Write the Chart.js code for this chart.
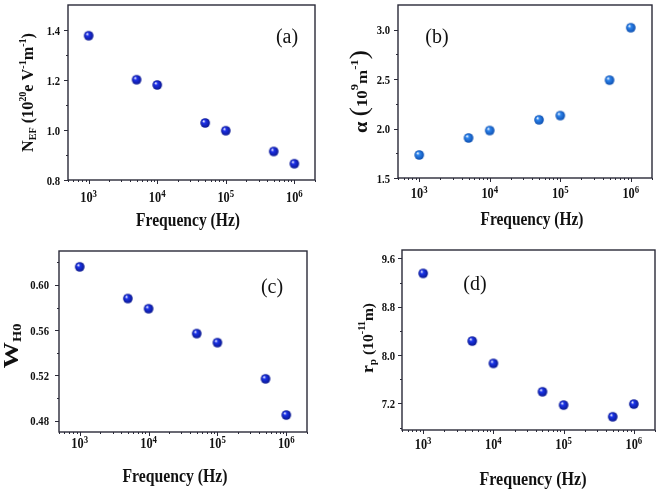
<!DOCTYPE html>
<html><head><meta charset="utf-8">
<script src="https://cdn.jsdelivr.net/npm/chart.js@4.4.1/dist/chart.umd.min.js"></script>
<style>
html,body{margin:0;padding:0;background:#fff;width:661px;height:492px;overflow:hidden}
.p{position:absolute}
</style></head><body>
<div class="p" style="left:0;top:0;width:330px;height:246px"><canvas id="ca"></canvas></div>
<div class="p" style="left:330px;top:0;width:331px;height:246px"><canvas id="cb"></canvas></div>
<div class="p" style="left:0;top:246px;width:330px;height:246px"><canvas id="cc"></canvas></div>
<div class="p" style="left:330px;top:246px;width:331px;height:246px"><canvas id="cd"></canvas></div>
<script>
// ---- data ----
const freq = [1e3, 5e3, 1e4, 5e4, 1e5, 5e5, 1e6];
const nEF = [1.377, 1.201, 1.180, 1.028, 0.997, 0.914, 0.865];
const alpha = [1.733, 1.905, 1.980, 2.088, 2.131, 2.490, 3.020];
const wH0 = [0.616, 0.588, 0.579, 0.557, 0.549, 0.517, 0.485];
const rp = [9.352, 8.232, 7.862, 7.393, 7.172, 6.979, 7.189];
const xTickExp = [3, 4, 5, 6];
const yTicksA = ['0.8', '1.0', '1.2', '1.4'];
const yTicksB = ['1.5', '2.0', '2.5', '3.0'];
const yTicksC = ['0.48', '0.52', '0.56', '0.60'];
const yTicksD = ['7.2', '8.0', '8.8', '9.6'];
const xLabel = 'Frequency (Hz)';

const FAM = "'Liberation Serif','Times New Roman',serif";
function fnt(size, bold) { return (bold ? 'bold ' : '') + size + 'px ' + FAM; }

function ball(color, dark, r) {
  const c = document.createElement('canvas');
  const s = Math.ceil(2 * r) + 2;
  c.width = c.height = s;
  const g = c.getContext('2d');
  const m = s / 2;
  const grd = g.createRadialGradient(m - r * 0.35, m - r * 0.4, 0.3, m, m, r);
  grd.addColorStop(0, '#ffffff');
  grd.addColorStop(0.3, color);
  grd.addColorStop(1, dark);
  g.fillStyle = grd;
  g.beginPath(); g.arc(m, m, r, 0, Math.PI * 2); g.fill();
  return c;
}

function txt(ctx, s, x, y, font, align, sx) {
  ctx.save();
  ctx.translate(x, y); ctx.scale(sx || 1, 1);
  ctx.font = font; ctx.textAlign = align; ctx.textBaseline = 'alphabetic';
  ctx.fillText(s, 0, 0);
  ctx.restore();
}

function rich(ctx, segs, bx, cy, target) {
  ctx.save();
  const w = segs.map(s => { ctx.font = fnt(s.s, s.b !== false); return ctx.measureText(s.t).width; });
  const total = w.reduce((a, b) => a + b, 0);
  const k = target ? target / total : 1;
  ctx.translate(bx, cy); ctx.rotate(-Math.PI / 2); ctx.scale(k, 1);
  let x = -total / 2;
  ctx.textAlign = 'left'; ctx.textBaseline = 'alphabetic';
  segs.forEach((s, i) => { ctx.font = fnt(s.s, s.b !== false); ctx.fillText(s.t, x, s.dy || 0); x += w[i]; });
  ctx.restore();
}

const axisPlugin = {
  id: 'axisPlugin',
  afterDraw(chart) {
    const P = chart.options.plugins.axisPlugin;
    const ctx = chart.ctx, a = chart.chartArea;
    const xs = chart.scales.x, ys = chart.scales.y;
    ctx.save();
    ctx.fillStyle = '#111';
    ctx.strokeStyle = '#2a2a38';
    ctx.lineWidth = 1.4;
    ctx.strokeRect(a.left, a.top, a.right - a.left, a.bottom - a.top);
    ctx.lineWidth = 1;
    ctx.beginPath();
    // x ticks
    for (let e = 2; e <= 6; e++) {
      for (let m = 1; m <= 9; m++) {
        const v = m * Math.pow(10, e);
        if (v < xs.min || v > xs.max) continue;
        const px = Math.round(xs.getPixelForValue(v)) + 0.5;
        const len = m === 1 ? 4 : 2;
        ctx.moveTo(px, a.bottom); ctx.lineTo(px, a.bottom + len);
      }
    }
    // y ticks
    P.yTicks.forEach((t, i) => {
      const v = parseFloat(t);
      const py = Math.round(ys.getPixelForValue(v)) + 0.5;
      ctx.moveTo(a.left, py); ctx.lineTo(a.left - 4, py);
      const mv = v + P.yStep / 2;
      if (mv < ys.max) {
        const pm = Math.round(ys.getPixelForValue(mv)) + 0.5;
        ctx.moveTo(a.left, pm); ctx.lineTo(a.left - 2, pm);
      }
      const lv = v - P.yStep / 2;
      if (i === 0 && lv > ys.min) {
        const pm = Math.round(ys.getPixelForValue(lv)) + 0.5;
        ctx.moveTo(a.left, pm); ctx.lineTo(a.left - 2, pm);
      }
    });
    ctx.stroke();
    // y tick labels
    P.yTicks.forEach(t => {
      const py = ys.getPixelForValue(parseFloat(t));
      txt(ctx, t, a.left - P.yLabGap, py + 4.5, fnt(13, true), 'right', 0.82);
    });
    // x tick labels 10^n
    xTickExp.forEach(e => {
      const px = xs.getPixelForValue(Math.pow(10, e));
      ctx.font = fnt(14, true);
      const w1 = ctx.measureText('10').width * 0.88;
      ctx.font = fnt(10, true);
      const w2 = ctx.measureText(String(e)).width * 0.88;
      const x0 = px - (w1 + w2) / 2;
      txt(ctx, '10', x0, P.xLabBase, fnt(14, true), 'left', 0.88);
      txt(ctx, String(e), x0 + w1, P.xLabBase - 5.5, fnt(10, true), 'left', 0.88);
    });
    // x title
    ctx.font = fnt(18, true); ctx.textAlign = 'center'; ctx.textBaseline = 'alphabetic';
    ctx.fillText(xLabel, P.xTitle[0], P.xTitle[1], P.xTitle[2]);
    // y title
    rich(ctx, P.yTitle, P.yTitlePos[0], P.yTitlePos[1], P.yTitlePos[2]);
    // panel label
    txt(ctx, P.tag, P.tagPos[0], P.tagPos[1], fnt(20, false), 'center', 1);
    ctx.restore();
  }
};

function panel(id, vals, color, dark, pad, yMin, yMax, extra) {
  const img = ball(color, dark, 4.8);
  return new Chart(document.getElementById(id), {
    type: 'scatter',
    data: { datasets: [{ data: freq.map((f, i) => ({ x: f, y: vals[i] })), pointStyle: img, pointRadius: 5, showLine: false, clip: false }] },
    options: {
      animation: false, responsive: true, maintainAspectRatio: false, devicePixelRatio: 1,
      events: [],
      layout: { padding: pad, autoPadding: false },
      plugins: { legend: { display: false }, tooltip: { enabled: false }, axisPlugin: extra },
      scales: {
        x: { type: 'logarithmic', min: 500, max: 2e6, display: false },
        y: { type: 'linear', min: yMin, max: yMax, display: false }
      }
    },
    plugins: [axisPlugin]
  });
}

panel('ca', nEF, '#1f32ea', '#0a1690', { left: 68, top: 5, right: 15, bottom: 66 }, 0.8, 1.5, {
  yTicks: yTicksA, yStep: 0.2, yLabGap: 8, xLabBase: 202, xTitle: [188, 226, 104],
  yTitle: [{ t: 'N', s: 16 }, { t: 'EF', s: 10, dy: 3 }, { t: ' (10', s: 16 }, { t: '20', s: 10, dy: -7 },
           { t: 'e V', s: 16 }, { t: '-1', s: 10, dy: -7 }, { t: 'm', s: 16 }, { t: '-1', s: 10, dy: -7 }, { t: ')', s: 16 }],
  yTitlePos: [33, 92.5, 119], tag: '(a)', tagPos: [287, 43]
});
panel('cb', alpha, '#2f86ee', '#0d4fb0', { left: 68, top: 5, right: 9, bottom: 68 }, 1.5, 3.25, {
  yTicks: yTicksB, yStep: 0.5, yLabGap: 8, xLabBase: 198, xTitle: [202, 225, 103],
  yTitle: [{ t: 'α ', s: 18 }, { t: '(', s: 25, b: false }, { t: '10', s: 15 }, { t: '9', s: 11, dy: -9 },
           { t: 'm', s: 15 }, { t: '-1', s: 11, dy: -9 }, { t: ')', s: 25, b: false }],
  yTitlePos: [37, 91.5, 83], tag: '(b)', tagPos: [107, 43]
});
panel('cc', wH0, '#1c34ea', '#08158c', { left: 59, top: 5, right: 23, bottom: 60 }, 0.47, 0.63, {
  yTicks: yTicksC, yStep: 0.04, yLabGap: 10, xLabBase: 202, xTitle: [175, 236, 105],
  yTitle: [{ t: 'W', s: 22 }, { t: 'H0', s: 12, dy: 3 }],
  yTitlePos: [18, 100, 45], tag: '(c)', tagPos: [272, 47]
});
panel('cd', rp, '#1c36ec', '#08168e', { left: 72, top: 4, right: 6, bottom: 62 }, 6.76, 9.74, {
  yTicks: yTicksD, yStep: 0.8, yLabGap: 7, xLabBase: 203, xTitle: [203, 239, 107],
  yTitle: [{ t: 'r', s: 17 }, { t: 'p', s: 11, dy: 3 }, { t: ' (10', s: 15 }, { t: '-11', s: 10, dy: -8 }, { t: 'm)', s: 15 }],
  yTitlePos: [43, 92, 70], tag: '(d)', tagPos: [145, 44]
});
</script>
</body></html>
